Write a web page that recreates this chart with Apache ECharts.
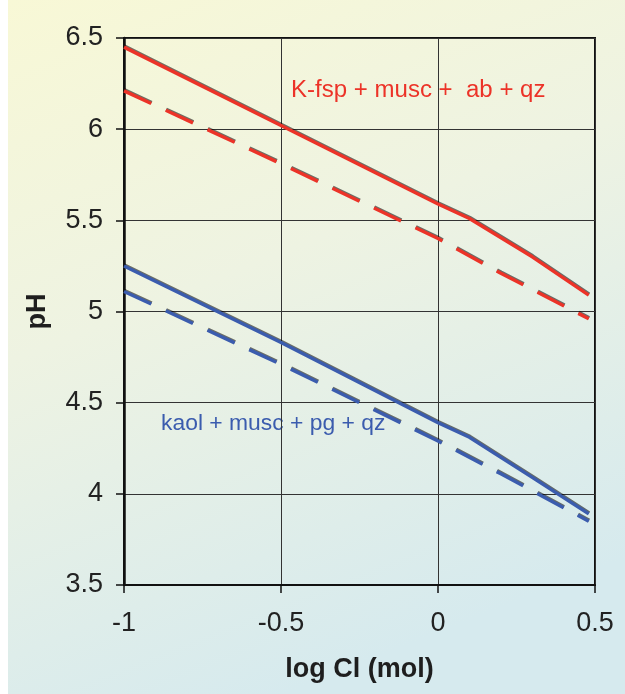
<!DOCTYPE html>
<html>
<head>
<meta charset="utf-8">
<script src="https://cdn.jsdelivr.net/npm/echarts@6/dist/echarts.min.js"></script>
<style>
  html, body { margin: 0; padding: 0; background: #ffffff; }
  #chart { position: absolute; left: 8px; top: 0; width: 617px; height: 694px; }
</style>
</head>
<body>
<div id="chart"></div>
<script>
// log Cl (mol) positions and pH values for each buffer assemblage
const redSolidX  = [-1, -0.5, 0, 0.1, 0.3, 0.48];
const redSolidY  = [6.45, 6.02, 5.59, 5.51, 5.30, 5.09];
const redDashX   = [-1, -0.5, 0, 0.2, 0.48];
const redDashY   = [6.21, 5.81, 5.40, 5.21, 4.96];
const blueSolidX = [-1, -0.5, 0, 0.1, 0.3, 0.48];
const blueSolidY = [5.25, 4.83, 4.39, 4.31, 4.09, 3.89];
const blueDashX  = [-1, -0.5, 0, 0.2, 0.48];
const blueDashY  = [5.11, 4.71, 4.29, 4.11, 3.85];

const xTicks = [-1, -0.5, 0, 0.5];
const yTicks = [3.5, 4, 4.5, 5, 5.5, 6, 6.5];

const redLabel  = 'K-fsp + musc +  ab + qz';
const blueLabel = 'kaol + musc + pg + qz';

const RED = '#ec3328';
const BLUE = '#3b5cae';
const FONT = '"Liberation Sans", Arial, sans-serif';

function pairs(xs, ys) { return xs.map((x, i) => [x, ys[i]]); }

function lineSeries(xs, ys, color, dashed) {
  return {
    type: 'line',
    data: pairs(xs, ys),
    symbol: 'none',
    smooth: false,
    silent: true,
    lineStyle: {
      color: color,
      width: 3.4,
      type: dashed ? [30, 16] : 'solid',
      cap: 'butt',
      shadowColor: 'rgba(0,0,0,0.55)',
      shadowBlur: 0,
      shadowOffsetX: 0.5,
      shadowOffsetY: -1
    }
  };
}

const chart = echarts.init(document.getElementById('chart'), null, { renderer: 'canvas' });

chart.setOption({
  animation: false,
  backgroundColor: {
    type: 'linear', x: 0, y: 0, x2: 0.45, y2: 1,
    colorStops: [
      { offset: 0, color: '#f8f8d6' },
      { offset: 0.45, color: '#eef3e2' },
      { offset: 1, color: '#d6eaee' }
    ]
  },
  grid: {
    left: 116, right: 30, top: 38, bottom: 109,
    show: true, borderColor: '#111', borderWidth: 2,
    backgroundColor: 'transparent'
  },
  xAxis: {
    type: 'value',
    min: xTicks[0], max: xTicks[xTicks.length - 1], interval: 0.5,
    name: 'log Cl (mol)',
    nameLocation: 'middle',
    nameGap: 71,
    nameTextStyle: { fontFamily: FONT, fontSize: 27, fontWeight: 'bold', color: '#1e1e1e' },
    axisLine: { show: true, onZero: false, lineStyle: { color: '#111', width: 2 } },
    axisTick: { show: true, inside: false, length: 8, lineStyle: { color: '#111', width: 1.5 } },
    axisLabel: {
      fontFamily: FONT, fontSize: 27, color: '#222', margin: 25,
      formatter: v => String(v)
    },
    splitLine: { show: true, lineStyle: { color: '#333', width: 1 } }
  },
  yAxis: {
    type: 'value',
    min: yTicks[0], max: yTicks[yTicks.length - 1], interval: 0.5,
    name: 'pH',
    nameLocation: 'middle',
    nameGap: 73,
    nameRotate: 90,
    nameTextStyle: { fontFamily: FONT, fontSize: 27, fontWeight: 'bold', color: '#1e1e1e' },
    axisLine: { show: true, onZero: false, lineStyle: { color: '#111', width: 2.5 } },
    axisTick: { show: true, inside: false, length: 8, lineStyle: { color: '#111', width: 1.5 } },
    axisLabel: {
      fontFamily: FONT, fontSize: 27, color: '#222', margin: 21,
      formatter: v => String(v)
    },
    splitLine: { show: true, lineStyle: { color: '#333', width: 1 } }
  },
  graphic: [
    {
      type: 'text', left: 283, top: 79, silent: true, scaleX: 1.045,
      style: { text: redLabel, fill: RED, font: '23px ' + FONT }
    },
    {
      type: 'text', left: 153, top: 413, silent: true, scaleX: 1.04,
      style: { text: blueLabel, fill: BLUE, font: '22px ' + FONT }
    }
  ],
  series: [
    lineSeries(redSolidX, redSolidY, RED, false),
    lineSeries(redDashX, redDashY, RED, true),
    lineSeries(blueSolidX, blueSolidY, BLUE, false),
    lineSeries(blueDashX, blueDashY, BLUE, true)
  ]
});
</script>
</body>
</html>
